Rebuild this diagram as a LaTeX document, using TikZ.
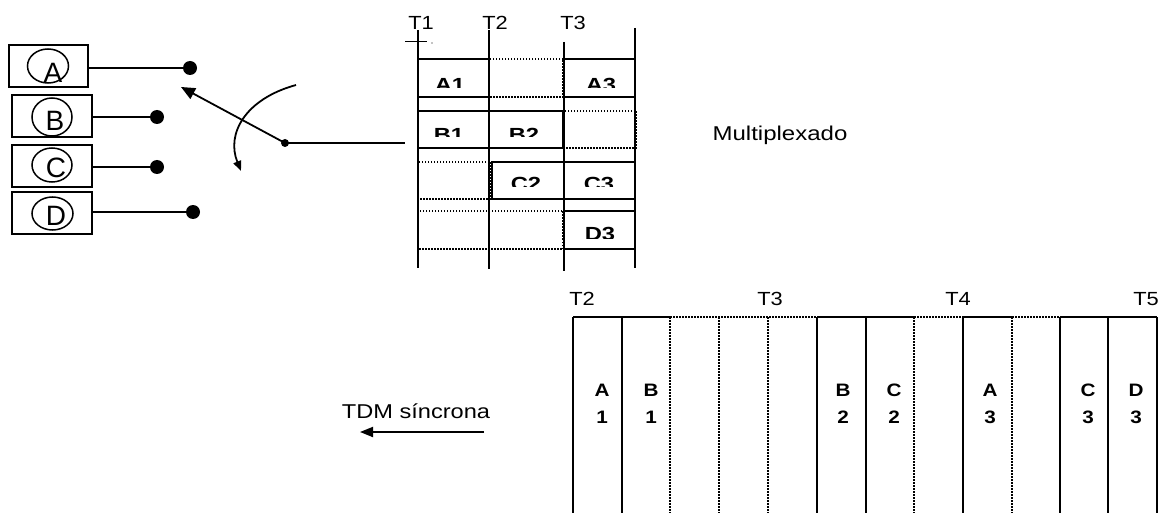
\documentclass[tikz,border=0pt]{standalone}
\usepackage{fontspec}
\usepackage{graphicx}
\setmainfont{Liberation Sans}
\usetikzlibrary{arrows.meta,shapes.geometric}
\newcommand\hsx[2]{\scalebox{#1}[1]{#2}}
\begin{document}
\begin{tikzpicture}[x=1pt,y=-1pt,
  ln/.style={line width=1.8pt},
  dt/.style={line width=1.7pt, dash pattern=on 1.5pt off 1.5pt},
  srcbox/.style={draw, line width=1.8pt, inner sep=0pt},
  ring/.style={draw, ellipse, line width=1.5pt, inner sep=0pt},
  ringlbl/.style={anchor=base, inner sep=0pt, font=\fontsize{28}{28}\selectfont},
  bigdot/.style={circle, fill=black, inner sep=0pt, minimum size=14pt},
  smalldot/.style={circle, fill=black, inner sep=0pt, minimum size=8pt},
  tlbl/.style={anchor=base, inner sep=0pt, font=\fontsize{19}{19}\selectfont},
  cellt/.style={anchor=base, inner sep=0pt, font=\fontsize{19}{19}\selectfont\bfseries},
  slot/.style={anchor=base, inner sep=0pt, font=\fontsize{18}{18}\selectfont\bfseries},
  caption/.style={anchor=base, inner sep=0pt, font=\fontsize{20}{20}\selectfont}
]
\useasboundingbox (0,0) rectangle (1169,513);

% ---------- sources ----------
\node[srcbox, minimum width=79pt, minimum height=42pt] (boxA) at (48.5,66) {};
\node[srcbox, minimum width=80pt, minimum height=42pt] (boxB) at (52,116) {};
\node[srcbox, minimum width=80pt, minimum height=42pt] (boxC) at (52,166) {};
\node[srcbox, minimum width=80pt, minimum height=42pt] (boxD) at (52,213) {};

\node[ring, minimum width=41pt, minimum height=34pt] (cA) at (48,66) {};
\node[ring, minimum width=40pt, minimum height=38pt] (cB) at (52,117) {};
\node[ring, minimum width=40pt, minimum height=34pt] (cC) at (52,165) {};
\node[ring, minimum width=41pt, minimum height=33pt] (cD) at (52.5,213.5) {};

\node[ringlbl] (lA) at (53,82.5) {A};
\node[ringlbl] (lB) at (55,130.5) {B};
\node[ringlbl] (lC) at (56,178) {C};
\node[ringlbl] (lD) at (56,225.5) {D};

\node[bigdot] (dA) at (190,68) {};
\node[bigdot] (dB) at (157,117) {};
\node[bigdot] (dC) at (157,167) {};
\node[bigdot] (dD) at (193,212) {};

\draw[ln] (boxA.east |- dA) -- (dA);
\draw[ln] (boxB.east |- dB) -- (dB);
\draw[ln] (boxC.east |- dC) -- (dC);
\draw[ln] (boxD.east |- dD) -- (dD);

% ---------- switch ----------
\node[smalldot] (sw) at (285,143) {};
\coordinate (sout) at (405,143);
\draw[ln] (sw.center) -- (sout);
\coordinate (swtip) at (181,87);
\draw[ln, -{Triangle[length=14pt,width=12pt]}] (sw.center) -- (swtip);
\coordinate (cv1) at (296,85);
\coordinate (cv2) at (241,171);
\draw[ln, -{Triangle[length=10pt,width=8pt]}] (cv1) .. controls (245,99) and (226,134) .. (cv2);

% ---------- multiplexed table ----------
\node[tlbl] (T1a) at (421,30) {\hsx{1.15}{T1}};
\node[tlbl] (T2a) at (495,30) {\hsx{1.15}{T2}};
\node[tlbl] (T3a) at (573,30) {\hsx{1.15}{T3}};
\draw[line width=1pt] (405,42) -- (427,42);
\fill (432,43) circle (0.7pt);

% cells: dotted ones
\draw[dt] (489,59) rectangle (563,97);
\draw[dt] (564,111) rectangle (636,148);
\draw[dt] (418,162) rectangle (490,199);
\draw[dt] (418,211) rectangle (563,249);
% cells: solid ones
\draw[ln] (418,59) rectangle (489,97);
\draw[ln] (564,59) rectangle (635,97);
\draw[ln] (418,111) rectangle (489,148);
\draw[ln] (489,111) rectangle (563,148);
\draw[ln] (492,162) rectangle (564,199);
\draw[ln] (564,162) rectangle (635,199);
\draw[ln] (564,211) rectangle (635,249);

% time lines
\draw[ln] (418,30) -- (418,268);
\draw[ln] (489,30) -- (489,269);
\draw[ln] (564,42) -- (564,271);
\draw[ln] (635,28) -- (635,268);

% clipped cell labels
\begin{scope}\clip (418,59) rectangle (489,88);
\node[cellt] (tA1) at (450,91.5) {\hsx{1.25}{A1}};\end{scope}
\begin{scope}\clip (564,59) rectangle (635,88);
\node[cellt] (tA3) at (601,91.5) {\hsx{1.25}{A3}};\end{scope}
\begin{scope}\clip (418,111) rectangle (489,137);
\node[cellt] (tB1) at (449,141.5) {\hsx{1.25}{B1}};\end{scope}
\begin{scope}\clip (489,111) rectangle (563,137);
\node[cellt] (tB2) at (524,141.5) {\hsx{1.25}{B2}};\end{scope}
\begin{scope}\clip (492,162) rectangle (564,187);
\node[cellt] (tC2) at (526,190.5) {\hsx{1.25}{C2}};\end{scope}
\begin{scope}\clip (564,162) rectangle (635,187);
\node[cellt] (tC3) at (599,190.5) {\hsx{1.25}{C3}};\end{scope}
\begin{scope}\clip (564,211) rectangle (635,238);
\node[cellt] (tD3) at (600,240.5) {\hsx{1.25}{D3}};\end{scope}

\node[caption] (mux) at (780,141) {\hsx{1.2}{Multiplexado}};

% ---------- TDM frame ----------
\node[tlbl] (T2b) at (582,305.5) {\hsx{1.15}{T2}};
\node[tlbl] (T3b) at (770,305.5) {\hsx{1.15}{T3}};
\node[tlbl] (T4b) at (958,305.5) {\hsx{1.15}{T4}};
\node[tlbl] (T5b) at (1146,305.5) {\hsx{1.15}{T5}};

\draw[ln] (573,317) -- (670,317);
\draw[dt] (670,317) -- (817,317);
\draw[ln] (817,317) -- (914,317);
\draw[dt] (914,317) -- (963,317);
\draw[ln] (963,317) -- (1012,317);
\draw[dt] (1012,317) -- (1060,317);
\draw[ln] (1060,317) -- (1157,317);

\foreach \x in {573,622,817,866,963,1060,1108,1157}
  \draw[ln] (\x,317) -- (\x,513);
\foreach \x in {670,719,768,914,1012}
  \draw[dt] (\x,317) -- (\x,513);

\foreach \x/\a/\b in {602/A/1, 651/B/1, 843/B/2, 894/C/2, 990/A/3, 1088/C/3, 1136/D/3}{
  \node[slot] at (\x,396.5) {\hsx{1.15}{\a}};
  \node[slot] at (\x,423) {\hsx{1.15}{\b}};
}

\node[caption] (tdm) at (416,418) {\hsx{1.18}{TDM síncrona}};
\coordinate (tdmS) at (484,432);
\coordinate (tdmE) at (360,432);
\draw[ln, -{Triangle[length=13pt,width=10pt]}] (tdmS) -- (tdmE);
\end{tikzpicture}
\end{document}
